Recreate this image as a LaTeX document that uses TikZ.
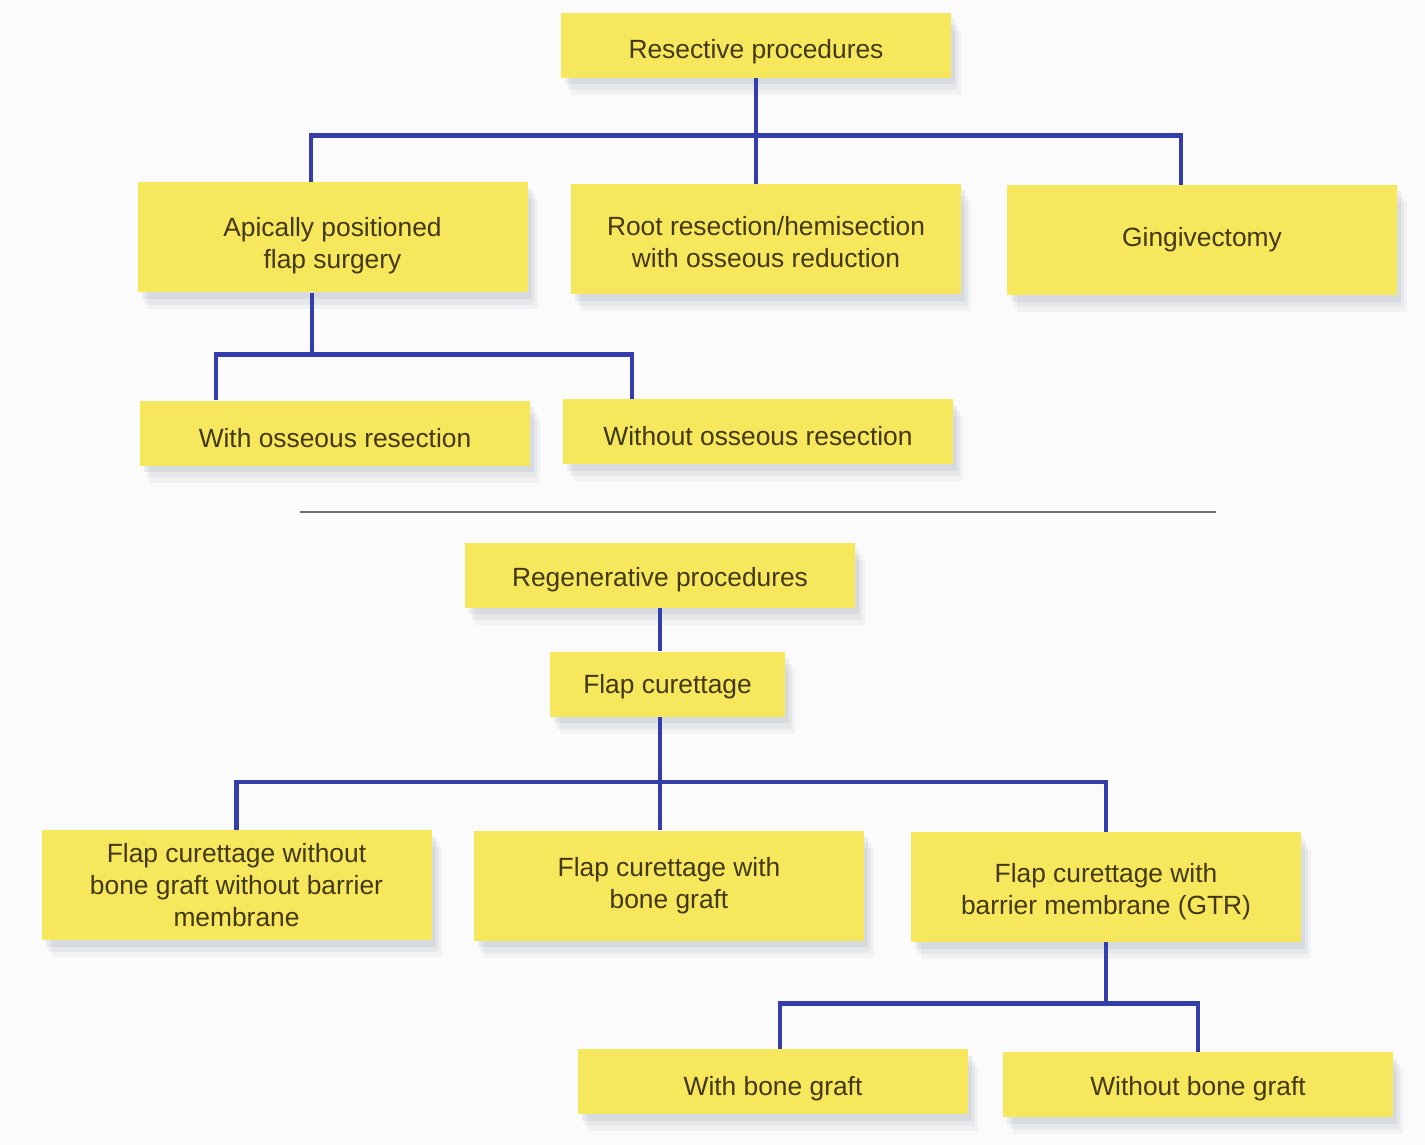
\documentclass[tikz,border=0pt]{standalone}
\usepackage{fontspec}
\setmainfont{Liberation Sans}
\usepackage{xcolor}
\definecolor{paper}{RGB}{250, 251, 250}
\definecolor{boxyellow}{RGB}{247, 231, 92}
\definecolor{boxtext}{RGB}{66, 56, 18}
\definecolor{linkblue}{RGB}{52, 62, 170}
\definecolor{rulegray}{RGB}{110, 110, 110}
\definecolor{shadowtone}{RGB}{80, 92, 115}
\usetikzlibrary{shadows,positioning,calc}

\begin{document}
\begin{tikzpicture}[
  procbox/.style={fill=boxyellow, text=boxtext, minimum width=7.8cm, minimum height=1.3cm, align=center, inner sep=4pt, text height=16pt, font=\fontsize{15pt}{18.2pt}\selectfont,
    drop shadow={shadow xshift=0.2cm, shadow yshift=-0.34cm, fill=shadowtone, opacity=0.05},
    drop shadow={shadow xshift=0.14cm, shadow yshift=-0.24cm, fill=shadowtone, opacity=0.07},
    drop shadow={shadow xshift=0.08cm, shadow yshift=-0.13cm, fill=shadowtone, opacity=0.09}},
  tallbox/.style={procbox, minimum height=2.2cm, text height=},
  link/.style={draw=linkblue, line width=2.6pt}
]
\useasboundingbox (0,0) rectangle (28.5,-22.9);
\fill[paper] (0,0) rectangle (28.5,-22.9);

\node[procbox, text height=18pt] (res) at (15.12, -0.91) {Resective procedures};
\node[tallbox, text height=38pt] (apf) at (6.65, -4.75) {Apically positioned\\flap surgery};
\node[tallbox, text height=32.4pt] (root) at (15.32, -4.78) {Root resection/hemisection\\with osseous reduction};
\node[tallbox] (ging) at (24.04, -4.80) {Gingivectomy};
\node[procbox, text height=17pt] (withos) at (6.70, -8.66) {With osseous resection};
\node[procbox] (withoutos) at (15.16, -8.63) {Without osseous resection};

\draw[rulegray, line width=0.8pt] (6.0, -10.24) -- (24.32, -10.24);

\node[procbox] (regen) at (13.20, -11.50) {Regenerative procedures};
\node[procbox, minimum width=4.7cm, text height=14pt] (flapc) at (13.35, -13.68) {Flap curettage};
\node[tallbox] (fcnone) at (4.73, -17.70) {Flap curettage without\\bone graft without barrier\\membrane};
\node[tallbox] (fcbone) at (13.38, -17.71) {Flap curettage with\\bone graft};
\node[tallbox, text height=34.7pt] (fcgtr) at (22.12, -17.74) {Flap curettage with\\barrier membrane (GTR)};
\node[procbox, text height=19pt] (wbg) at (15.46, -21.63) {With bone graft};
\node[procbox] (wobg) at (23.96, -21.69) {Without bone graft};

\draw[link] (res.south) -- ++(0,-1.14) coordinate (rbus);
\draw[link] ([xshift=-0.43cm]apf.north) |- (rbus) -| ([xshift=-0.42cm]ging.north);
\draw[link] (rbus) -- (root.north -| rbus);

\draw[link] ([xshift=-0.41cm]apf.south) -- ++(0,-1.23) coordinate (abus);
\draw[link] ([xshift=-2.38cm]withos.north) |- (abus) -| ([xshift=-2.52cm]withoutos.north);

\draw[link] (regen.south) -- (regen.south |- flapc.north);
\draw[link] (regen.south |- flapc.south) -- ++(0,-1.30) coordinate (fbus);
\draw[link] (fcnone.north) |- (fbus) -| (fcgtr.north);
\draw[link] (fbus) -- (fcbone.north -| fbus);

\draw[link] (fcgtr.south) -- ++(0,-1.22) coordinate (gbus);
\draw[link] ([xshift=0.14cm]wbg.north) |- (gbus) -| (wobg.north);
\end{tikzpicture}
\end{document}
